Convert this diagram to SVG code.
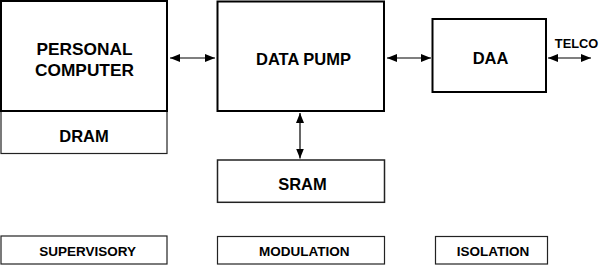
<svg xmlns="http://www.w3.org/2000/svg" width="600" height="265" viewBox="0 0 600 265">
<defs>
<marker id="ah" viewBox="0 0 10 8" refX="10" refY="4" markerWidth="10" markerHeight="8" markerUnits="userSpaceOnUse" orient="auto-start-reverse">
<path d="M0,0 L10,4 L0,8 Z" fill="#000"/>
</marker>
</defs>
<style>
.thick{fill:#fff;stroke:#000;stroke-width:2}
.thin{fill:#fff;stroke:#222;stroke-width:1.2}
.lbl{font-family:"Liberation Sans",Arial,sans-serif;font-weight:bold;fill:#000;text-anchor:middle}
.big{font-size:17.3px}
.mid{font-size:16.5px}
.sm{font-size:13.5px}
.conn{stroke:#000;stroke-width:1.2;fill:none;marker-start:url(#ah);marker-end:url(#ah)}
</style>
<rect width="600" height="265" fill="#fff"/>
<g id="dram">
<rect class="thin" x="1" y="111" width="166" height="42.5"/>
<text class="lbl mid" x="84" y="141.7">DRAM</text>
</g>
<g id="pc">
<rect class="thick" x="1" y="1" width="166" height="110"/>
<text class="lbl big" x="84.5" y="55">PERSONAL</text>
<text class="lbl big" x="84.5" y="75.7">COMPUTER</text>
</g>
<g id="datapump">
<rect class="thick" x="217.5" y="1.5" width="166.5" height="109.5"/>
<text class="lbl mid" x="303.5" y="65">DATA PUMP</text>
</g>
<g id="daa">
<rect class="thick" x="432.5" y="19" width="113.5" height="73"/>
<text class="lbl mid" x="490.5" y="64.3">DAA</text>
</g>
<g id="sram">
<rect class="thin" x="217.5" y="160" width="167" height="42.3" style="stroke-width:1.5"/>
<text class="lbl mid" x="302.5" y="190">SRAM</text>
</g>
<g id="supervisory">
<rect class="thin" x="1" y="236" width="166" height="28"/>
<text class="lbl sm" x="87.7" y="255.7">SUPERVISORY</text>
</g>
<g id="modulation">
<rect class="thin" x="217.5" y="236.5" width="167" height="27.5"/>
<text class="lbl sm" x="304.3" y="255.7">MODULATION</text>
</g>
<g id="isolation">
<rect class="thin" x="435.5" y="236.5" width="112" height="27.5"/>
<text class="lbl sm" x="493" y="255.7">ISOLATION</text>
</g>
<g id="telco">
<text class="lbl" style="font-size:12.8px" x="576.5" y="48.3">TELCO</text>
</g>
<g id="connectors">
<line class="conn" x1="170" y1="58" x2="215" y2="58"/>
<line class="conn" x1="387" y1="58" x2="431" y2="58"/>
<line class="conn" x1="548" y1="58" x2="591" y2="58"/>
<line class="conn" x1="300" y1="113" x2="300" y2="158.5"/>
</g>
</svg>
